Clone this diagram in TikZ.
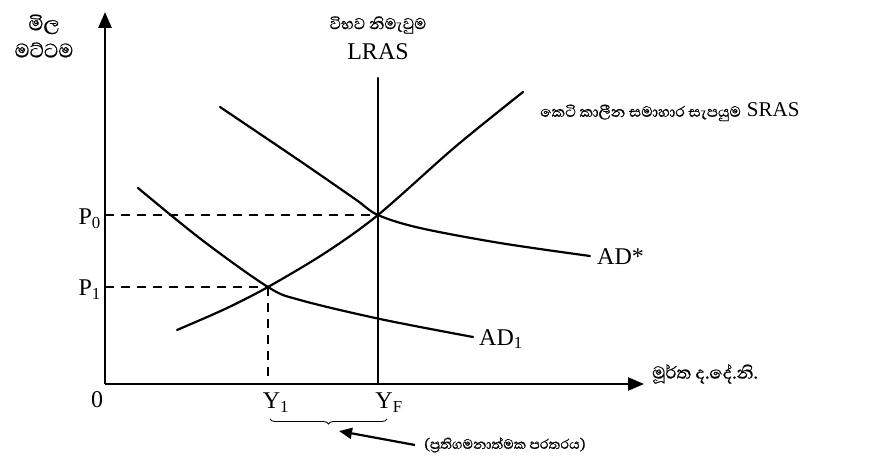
\documentclass[tikz,border=0pt]{standalone}
\usepackage{fontspec}
\setmainfont{Liberation Serif}
\newfontfamily\sinhalafnt[Script=Sinhala, FakeBold=0.6]{Abhaya Libre}
\usetikzlibrary{arrows.meta,decorations.pathreplacing}
\begin{document}
\begin{tikzpicture}[x=1pt,y=-1pt,
  axis/.style={line width=2.6pt},
  curve/.style={line width=2.2pt, line cap=round},
  guide/.style={line width=1.8pt, dash pattern=on 9pt off 7pt},
  lbl/.style={font=\fontsize{24}{26}\selectfont, inner sep=0pt},
  slbl/.style={font=\sinhalafnt\fontsize{20}{23}\selectfont, inner sep=0pt},
  bigtip/.style={-{Triangle[length=16pt,width=13pt]}},
]
\useasboundingbox (0,0) rectangle (874,473);
% key points
\coordinate (O) at (105,384);
\coordinate (Ytop) at (105,12);
\coordinate (Xend) at (644,384);
\coordinate (E0) at (378,215);
\coordinate (E1) at (268,287);
\coordinate (LRAStop) at (378,78);
% axes
\draw[axis,bigtip] (O) -- (Ytop);
\draw[axis,bigtip] (O) -- (Xend);
% guides
\draw[guide] (O |- E0) -- (E0);
\draw[guide] (O |- E1) -- (E1);
\draw[guide] (E1) -- (E1 |- O);
% LRAS
\draw[curve] (LRAStop) -- (LRAStop |- O);
% SRAS
\draw[curve] plot[smooth, tension=0.5] coordinates {(177,330) (225,309) (E1) (325,253) (E0) (455,147) (523,92)};
% AD*
\draw[curve] plot[smooth, tension=0.55] coordinates {(220,107) (300,161) (355,199) (E0) (420,228) (500,243) (590,256)};
% AD1
\draw[curve] plot[smooth, tension=0.55] coordinates {(138,188) (202,240) (E1) (300,300) (380,319) (473,337)};
% labels
\node[slbl, font=\sinhalafnt\fontsize{25}{27}\selectfont, align=center] (ylab) at (44,36) {මිල\\මට්ටම};
\node[slbl] (lrass) at (378,25) {විභව නිමැවුම};
\node[lbl] (lras) at (378,52) {LRAS};
\node[lbl, anchor=west] (sras) at (540,112) {{\sinhalafnt\fontsize{19}{22}\selectfont කෙටි කාලීන සමාහාර සැපයුම} {\fontsize{21}{23}\selectfont SRAS}};
\node[lbl, anchor=west] (adstar) at (597,257) {AD*};
\node[lbl, anchor=west] (adone) at (479,339) {AD\textsubscript{1}};
\node[lbl, anchor=east] (pzero) at (101,219) {P\textsubscript{0}};
\node[lbl, anchor=east] (pone) at (101,290) {P\textsubscript{1}};
\node[lbl] (zero) at (97,400) {0};
\node[lbl] (yone) at (276,403) {Y\textsubscript{1}};
\node[lbl] (yf) at (389,403) {Y\textsubscript{F}};
\node[slbl, font=\sinhalafnt\fontsize{22}{24}\selectfont, anchor=west] (xlab) at (652,374) {මූර්ත ද.දේ.නි.};
% brace and gap arrow
\coordinate (bl) at (270,419);
\coordinate (br) at (387,419);
\draw[line width=0.9pt, decorate, decoration={brace, mirror, amplitude=5pt}] (bl) -- (br);
\node[slbl, font=\sinhalafnt\fontsize{17.5}{20}\selectfont, anchor=west] (gap) at (424,445) {(ප්^^^^200dරතිගමනාත්මක පරතරය)};
\coordinate (gaptip) at (339,431);
\draw[line width=2.2pt, -{Triangle[length=13pt,width=11pt]}] ([xshift=-9pt]gap.west) -- (gaptip);
\end{tikzpicture}
\end{document}
